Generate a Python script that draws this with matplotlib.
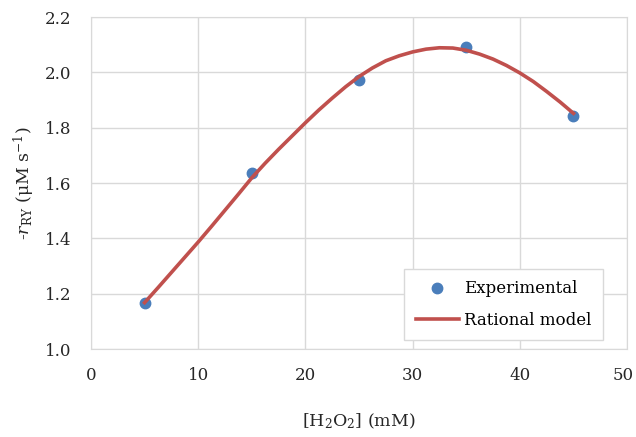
import matplotlib
matplotlib.use("Agg")
import matplotlib.pyplot as plt
import matplotlib.transforms as mtransforms

# Experimental points
h2o2_exp = [5, 15, 25, 35, 45]
rate_exp = [1.166, 1.636, 1.972, 2.091, 1.843]

# Rational model curve
h2o2_model = [5, 6.25, 7.5, 8.75, 10, 11.25, 12.5, 13.75, 15, 16.25, 17.5, 18.75, 20,
              21.25, 22.5, 23.75, 25, 26.25, 27.5, 28.75, 30, 31.25, 32.5, 33.75, 35,
              36.25, 37.5, 38.75, 40, 41.25, 42.5, 43.75, 45]
rate_model = [1.168, 1.222, 1.277, 1.332, 1.387, 1.444, 1.502, 1.560, 1.619, 1.672, 1.722,
              1.770, 1.818, 1.864, 1.907, 1.948, 1.985, 2.016, 2.042, 2.060, 2.074, 2.084,
              2.089, 2.088, 2.080, 2.066, 2.048, 2.025, 1.998, 1.967, 1.931, 1.893, 1.852]

x_ticks = [0, 10, 20, 30, 40, 50]
y_ticks = [1.0, 1.2, 1.4, 1.6, 1.8, 2.0, 2.2]

plt.rcParams['font.family'] = ['DejaVu Serif']
plt.rcParams['mathtext.fontset'] = 'dejavuserif'
plt.rcParams['font.size'] = 12

grid_col = '#d9d9d9'

fig = plt.figure(figsize=(6.36, 4.37), dpi=100)
ax = fig.add_axes([0.143, 0.201, 0.843, 0.760])

ax.plot(h2o2_exp, rate_exp, 'o', color='#4a7ebb', ms=7.5, label='Experimental', zorder=3)
ax.plot(h2o2_model, rate_model, '-', color='#c0504d', lw=2.6, label='Rational model', zorder=4)

ax.set_xlim(0, 50)
ax.set_ylim(1.0, 2.2)
ax.set_xticks(x_ticks)
ax.set_yticks(y_ticks)
ax.set_yticklabels(['%.1f' % v for v in y_ticks])
ax.grid(True, color=grid_col, lw=1)
ax.set_axisbelow(True)
ax.tick_params(length=0, pad=14, colors='#262626', labelsize=12)
ax.tick_params(axis='x', pad=13)
for s in ax.spines.values():
    s.set_color(grid_col)

# keep the "50" inside the figure edge
last = ax.get_xticklabels()[-1]
last.set_transform(last.get_transform() + mtransforms.ScaledTranslation(-4 / 100, 0, fig.dpi_scale_trans))

ax.set_xlabel(r'[H$_2$O$_2$] (mM)', fontsize=12.5, labelpad=20, color='#262626')
ax.set_ylabel(r'-$r_{\mathrm{RY}}$ (μM s$^{\mathrm{-1}}$)', fontsize=12.5, labelpad=6,
              color='#262626')

leg = ax.legend(loc='lower right', bbox_to_anchor=(0.955, 0.027), borderaxespad=0,
                fancybox=False, edgecolor=grid_col, framealpha=1, fontsize=12,
                borderpad=0.7, labelspacing=0.85, handlelength=2.6, handletextpad=0.3)
leg.get_frame().set_linewidth(1)

fig.savefig('out.png', dpi=100)
